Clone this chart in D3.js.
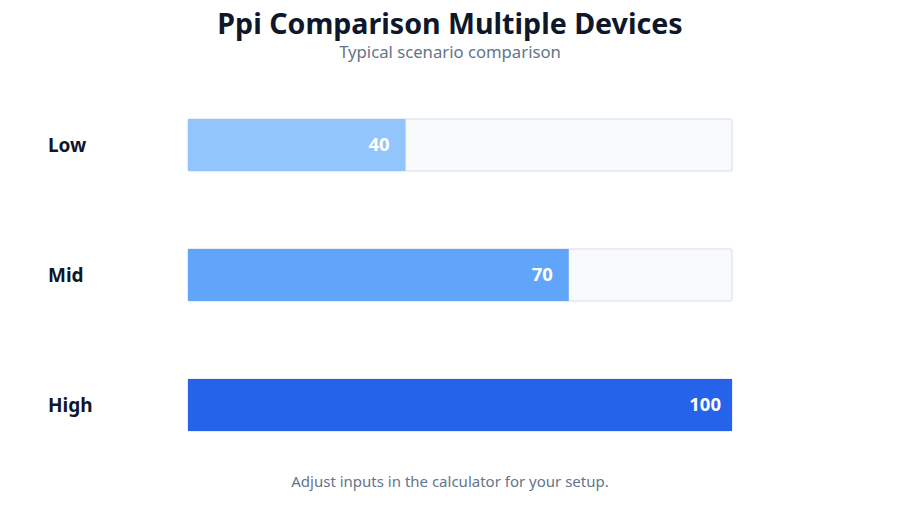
<!DOCTYPE html>
<html><head><meta charset="utf-8">
<script src="https://cdn.jsdelivr.net/npm/d3@7"></script>
<style>body{margin:0;background:#fff;}</style>
</head><body><svg id="c" width="900" height="506"></svg>
<script>
const categories = ["Low", "Mid", "High"];
const values = [40, 70, 100];
const colors = ["#93c5fd", "#60a5fa", "#2563eb"];
const maxValue = 100;
const title = "Ppi Comparison Multiple Devices";
const subtitle = "Typical scenario comparison";
const footer = "Adjust inputs in the calculator for your setup.";

const svg = d3.select("#c");
const font = '"Noto Sans","Open Sans",sans-serif';
const x = d3.scaleLinear().domain([0, maxValue]).range([188, 732]);
const y = d3.scaleBand().domain(categories).range([80, 470]).paddingInner(0.6).paddingOuter(0.3);

svg.append("text").attr("x", 450).attr("y", 34).attr("text-anchor", "middle")
  .attr("font-family", font).attr("font-size", 28.6).attr("font-weight", 700).attr("fill", "#0f172a").text(title);
svg.append("text").attr("x", 450).attr("y", 58).attr("text-anchor", "middle")
  .attr("font-family", font).attr("font-size", 16.7).attr("fill", "#64748b").text(subtitle);

const g = svg.append("g");
categories.forEach((c, i) => {
  const yy = y(c);
  g.append("rect").attr("x", x(0)).attr("y", yy).attr("width", x(maxValue) - x(0)).attr("height", y.bandwidth())
    .attr("rx", 2).attr("fill", "#f8fafc").attr("stroke", "#e2e8f0").attr("stroke-width", 1.5);
  g.append("rect").attr("x", x(0)).attr("y", yy).attr("width", x(values[i]) - x(0)).attr("height", y.bandwidth())
    .attr("fill", colors[i]);
  g.append("text").attr("x", 48).attr("y", yy + y.bandwidth() / 2).attr("dy", "0.35em")
    .attr("font-family", font).attr("font-size", 19).attr("font-weight", 700).attr("fill", "#0f172a").text(c);
  const off = values[i] >= maxValue ? 11 : 16;
  g.append("text").attr("x", x(values[i]) - off).attr("y", yy + y.bandwidth() / 2).attr("dy", "0.35em")
    .attr("text-anchor", "end").attr("font-family", font).attr("font-size", 18.5).attr("font-weight", 700)
    .attr("fill", "#ffffff").text(values[i]);
});

svg.append("text").attr("x", 450).attr("y", 487).attr("text-anchor", "middle")
  .attr("font-family", font).attr("font-size", 15).attr("fill", "#64748b").text(footer);
</script></body></html>
